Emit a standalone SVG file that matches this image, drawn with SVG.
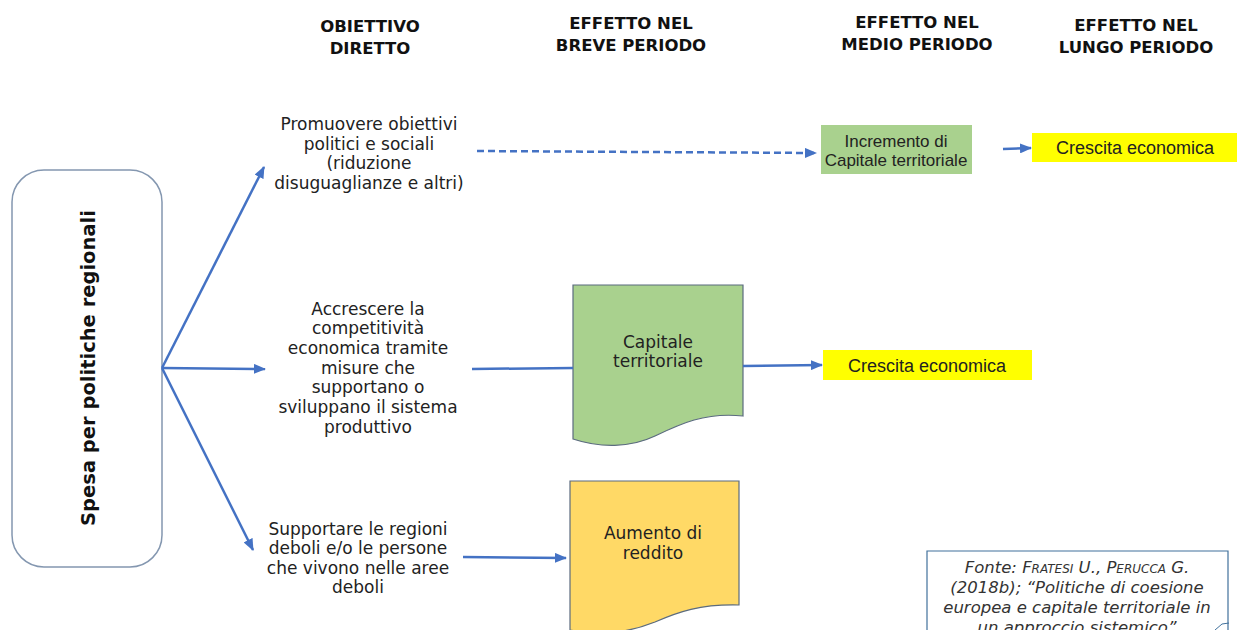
<svg xmlns="http://www.w3.org/2000/svg" width="1237" height="630" viewBox="0 0 1237 630">
<defs>
<marker id="ah" markerUnits="userSpaceOnUse" markerWidth="12" markerHeight="10" refX="11" refY="5" orient="auto">
<path d="M0,0 L12,5 L0,10 Z" fill="#4472c4"/>
</marker>
<style>
.hdr{font-family:"DejaVu Sans",Verdana,sans-serif;font-weight:bold;font-size:16.5px;fill:#111;text-anchor:middle}
.body{font-family:"DejaVu Sans",Verdana,sans-serif;font-size:17px;fill:#222;text-anchor:middle}
.cal{font-family:"Liberation Sans",Arial,sans-serif;font-size:17px;fill:#222;text-anchor:middle}
.cal2{font-family:"Liberation Sans",Arial,sans-serif;font-size:18px;fill:#222;text-anchor:middle}
.src{font-family:"DejaVu Sans",Verdana,sans-serif;font-style:italic;font-size:16.5px;fill:#333;text-anchor:middle}
.sc{font-variant:small-caps}
.conn{stroke:#4472c4;stroke-width:2.5;fill:none}
</style>
</defs>
<rect width="1237" height="630" fill="#ffffff"/>

<g id="headers">
<text class="hdr" x="370" y="32">OBIETTIVO</text>
<text class="hdr" x="370" y="54">DIRETTO</text>
<text class="hdr" x="631" y="29">EFFETTO NEL</text>
<text class="hdr" x="631" y="51">BREVE PERIODO</text>
<text class="hdr" x="917" y="28">EFFETTO NEL</text>
<text class="hdr" x="917" y="50">MEDIO PERIODO</text>
<text class="hdr" x="1136" y="31">EFFETTO NEL</text>
<text class="hdr" x="1136" y="53">LUNGO PERIODO</text>
</g>

<g id="spesa">
<rect x="12" y="170" width="150" height="397" rx="32" ry="32" fill="#ffffff" stroke="#8497b0" stroke-width="1.5"/>
<text transform="translate(95,368) rotate(-90)" text-anchor="middle" font-family="DejaVu Sans,Verdana,sans-serif" font-weight="bold" font-size="19.5px" fill="#111">Spesa per politiche regionali</text>
</g>

<g id="obiettivo1">
<text class="body" x="369" y="130">Promuovere obiettivi</text>
<text class="body" x="369" y="150">politici e sociali</text>
<text class="body" x="369" y="169">(riduzione</text>
<text class="body" x="369" y="189">disuguaglianze e altri)</text>
</g>

<g id="obiettivo2">
<text class="body" x="368" y="315">Accrescere la</text>
<text class="body" x="368" y="334">competitività</text>
<text class="body" x="368" y="354">economica tramite</text>
<text class="body" x="368" y="374">misure che</text>
<text class="body" x="368" y="393">supportano o</text>
<text class="body" x="368" y="413">sviluppano il sistema</text>
<text class="body" x="368" y="433">produttivo</text>
</g>

<g id="obiettivo3">
<text class="body" x="358" y="535">Supportare  le regioni</text>
<text class="body" x="358" y="554">deboli e/o le persone</text>
<text class="body" x="358" y="574">che vivono nelle aree</text>
<text class="body" x="358" y="593">deboli</text>
</g>

<g id="incremento">
<rect x="821" y="125" width="151" height="49" fill="#a9d18e"/>
<text class="cal" x="896" y="147">Incremento di</text>
<text class="cal" x="896" y="166">Capitale territoriale</text>
</g>

<g id="crescita1">
<rect x="1032" y="133" width="205" height="29" fill="#ffff00"/>
<text class="cal2" x="1135" y="154">Crescita economica</text>
</g>

<g id="capitale">
<path d="M573,285 H743 V416 C705,412 680,424 655,436 C630,448 600,448 573,439 Z" fill="#a9d18e" stroke="#5b6b7f" stroke-width="1.2"/>
<text class="body" x="658" y="348">Capitale</text>
<text class="body" x="658" y="367">territoriale</text>
</g>

<g id="crescita2">
<rect x="823" y="350" width="209" height="30" fill="#ffff00"/>
<text class="cal2" x="927" y="371.5">Crescita economica</text>
</g>

<g id="reddito">
<path d="M570,481 H739 V605 C700,604 678,612 655,622 C630,632 600,636 570,630 Z" fill="#ffd966" stroke="#5b6b7f" stroke-width="1.2"/>
<text class="body" x="653" y="539">Aumento di</text>
<text class="body" x="653" y="559">reddito</text>
</g>

<g id="fonte">
<path d="M927,630 V551 H1228 V630" fill="#ffffff" stroke="#41719c" stroke-width="1.2"/>
<text class="src" x="1077" y="573">Fonte: <tspan class="sc">Fratesi</tspan> U., <tspan class="sc">Perucca</tspan> G.</text>
<text class="src" x="1077" y="593">(2018b); “Politiche di coesione</text>
<text class="src" x="1077" y="613">europea e capitale territoriale in</text>
<text class="src" x="1077" y="633">un approccio sistemico”</text>
<path d="M1215,630 L1222,624 L1229,623" fill="none" stroke="#41719c" stroke-width="1"/>
</g>

<g id="connectors">
<line class="conn" x1="162" y1="368" x2="264" y2="167" marker-end="url(#ah)"/>
<line class="conn" x1="162" y1="368" x2="265" y2="369" marker-end="url(#ah)"/>
<line class="conn" x1="162" y1="368" x2="253" y2="550" marker-end="url(#ah)"/>
<line class="conn" x1="477" y1="151" x2="816" y2="153" stroke-dasharray="7,4" marker-end="url(#ah)"/>
<line class="conn" x1="1003" y1="149" x2="1031" y2="148" marker-end="url(#ah)"/>
<line class="conn" x1="472" y1="369" x2="573" y2="368"/>
<line class="conn" x1="743" y1="366" x2="822" y2="365" marker-end="url(#ah)"/>
<line class="conn" x1="463" y1="557" x2="566" y2="558" marker-end="url(#ah)"/>
</g>
</svg>
